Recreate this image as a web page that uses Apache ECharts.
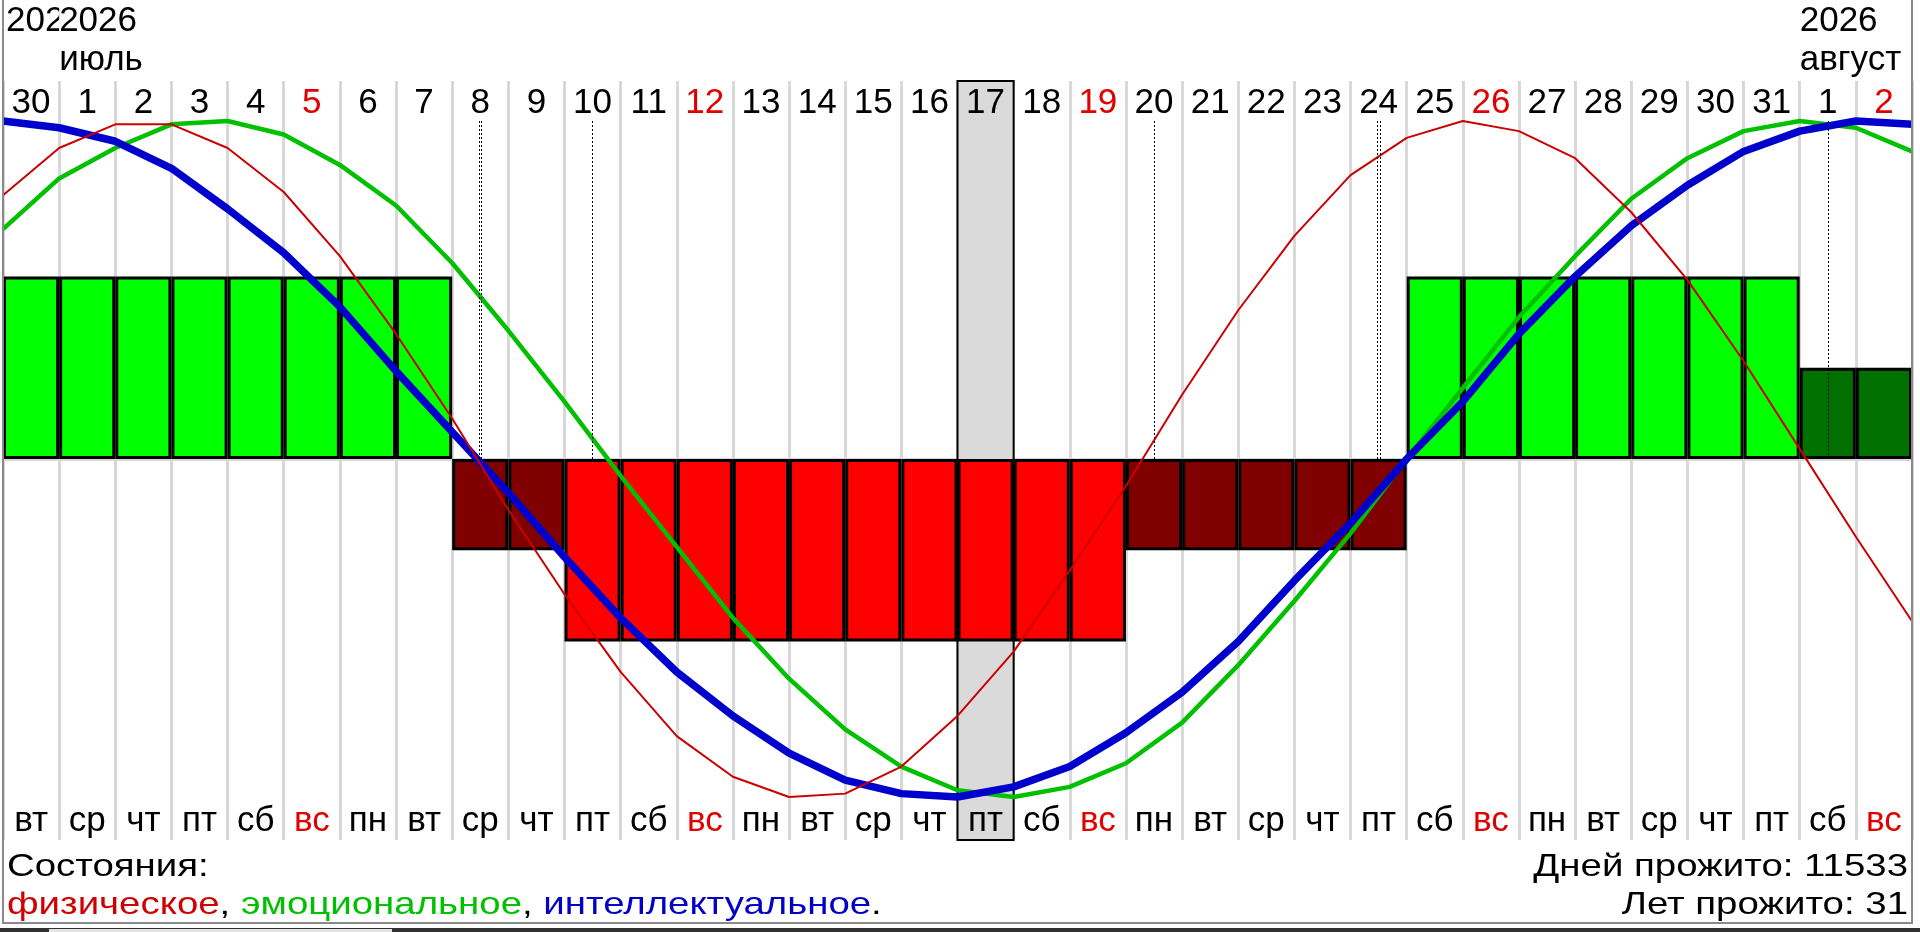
<!DOCTYPE html>
<html>
<head>
<meta charset="utf-8">
<title>Биоритмы</title>
<script src="https://cdn.jsdelivr.net/npm/echarts@6/dist/echarts.min.js"></script>
<style>
html,body{margin:0;padding:0;background:#fff;overflow:hidden;}
#main{width:1920px;height:932px;}
</style>
</head>
<body>
<div id="main"></div>
<script>
// дни: 30 июня - 2 августа 2026
var days = ['30','1','2','3','4','5','6','7','8','9','10','11','12','13','14','15','16',
	'17','18','19','20','21','22','23','24','25','26','27','28','29','30','31','1','2'];
var weekdays = ['вт','ср','чт','пт','сб','вс','пн','вт','ср','чт','пт','сб','вс','пн','вт','ср','чт',
	'пт','сб','вс','пн','вт','ср','чт','пт','сб','вс','пн','вт','ср','чт','пт','сб','вс'];
// год / месяц над шкалой (номер столбца, с которого начинается подпись)
var monthAt = [0, 1, 32];
var monthYear = ['2026', '2026', '2026'];
var monthName = ['', 'июль', 'август'];
// общее состояние по дням
var states = [2,2,2,2,2,2,2,2,-1,-1,-2,-2,-2,-2,-2,-2,-2,-2,-2,-2,-1,-1,-1,-1,-1,2,2,2,2,2,2,2,1,1];
// кривые, значения на границах дней (0..34)
var physical = [0.78,0.92,0.99,0.99,0.92,0.79,0.60,0.37,0.12,-0.15,-0.40,-0.63,-0.82,-0.94,-1.0,-0.99,-0.91,
	-0.76,-0.57,-0.33,-0.08,0.19,0.44,0.66,0.84,0.95,1.0,0.97,0.89,0.73,0.53,0.29,0.03,-0.23,-0.48];
var emotional = [0.68,0.83,0.92,0.99,1.0,0.96,0.87,0.75,0.58,0.38,0.17,-0.05,-0.26,-0.47,-0.65,-0.80,-0.91,
	-0.98,-1.0,-0.97,-0.90,-0.78,-0.61,-0.42,-0.22,0.0,0.21,0.42,0.60,0.77,0.89,0.97,1.0,0.98,0.91];
var intellectual = [1.0,0.98,0.94,0.86,0.74,0.61,0.45,0.26,0.08,-0.10,-0.29,-0.47,-0.63,-0.76,-0.87,-0.95,-0.99,
	-1.0,-0.97,-0.91,-0.81,-0.69,-0.54,-0.36,-0.19,0.0,0.17,0.37,0.54,0.69,0.81,0.91,0.97,1.0,0.99];
// критические дни (повтор - ноль пересекают две кривые)
var criticalDays = [8, 8, 10, 20, 24, 24, 32];
var todayIndex = 17;
var daysLived = 11533;
var yearsLived = 31;

var FONT = '"Liberation Sans", Arial, sans-serif';
var RED = '#e00000';
var stateColor = {'2': '#00ff00', '1': '#007000', '-1': '#800000', '-2': '#ff0000'};

function pairs(arr){
	return arr.map(function(v, i){ return [i, v]; });
}

var critLines = [];
criticalDays.forEach(function(d, k){
	var dup = criticalDays.filter(function(x){ return x === d; }).length;
	var n = criticalDays.slice(0, k).filter(function(x){ return x === d; }).length;
	var x = d + 0.5 + (dup > 1 ? (n === 0 ? -0.025 : 0.025) : 0);
	critLines.push([{coord: [x, 0]}, {coord: [x, 1.006]}]);
});

// подпись год/месяц над столбцом
function monthLabel(k){
	return '{y|' + monthYear[k] + '}\n{m|' + (monthName[k] || ' ') + '}';
}
var monthRich = {
	y: {fontSize: 35, lineHeight: 39, fontFamily: FONT, color: '#000', backgroundColor: '#fff'},
	m: {fontSize: 35, lineHeight: 39, fontFamily: FONT, color: '#000'}
};
var dayRich = {
	n: {fontSize: 35, lineHeight: 35, fontFamily: FONT, color: '#000'},
	r: {fontSize: 35, lineHeight: 35, fontFamily: FONT, color: RED}
};

function textEl(x, y, text, align, rich){
	return {
		type: 'text', x: x, y: y, scaleX: 1.2, silent: true,
		style: {text: text, font: '32px ' + FONT, fill: '#000', align: align, verticalAlign: 'middle', rich: rich}
	};
}

var myChart = echarts.init(document.getElementById('main'));
var option = {
	animation: false,
	backgroundColor: '#fff',
	grid: {left: 3, right: 8, top: 81, height: 759, containLabel: false},
	xAxis: [
		{ // столбцы, разделители, верхняя линия
			type: 'category', data: days, position: 'top', boundaryGap: true,
			axisLine: {show: true, lineStyle: {color: '#d8d8d8', width: 3}},
			axisTick: {show: false}, axisLabel: {show: false},
			splitLine: {show: true, interval: 0, lineStyle: {color: '#d8d8d8', width: 3}}
		},
		{ // нижняя линия
			type: 'category', data: weekdays, position: 'bottom',
			axisLine: {show: true, lineStyle: {color: '#d8d8d8', width: 3}},
			axisTick: {show: false}, axisLabel: {show: false}, splitLine: {show: false}
		},
		{ // кривые + год/месяц (июль, август)
			type: 'value', min: 0, max: 34, interval: 1, position: 'top', z: 2,
			axisLine: {show: false}, axisTick: {show: false}, splitLine: {show: false},
			axisLabel: {
				show: true, align: 'left', margin: 1, showMinLabel: true, showMaxLabel: true,
				formatter: function(v){
					var k = monthAt.indexOf(v);
					return k > 0 ? monthLabel(k) : '';
				},
				rich: monthRich
			}
		},
		{ // числа
			type: 'category', data: days, position: 'top', z: 10,
			axisLine: {show: false}, axisTick: {show: false}, splitLine: {show: false},
			axisLabel: {
				inside: true, interval: 0, margin: 5,
				formatter: function(v, i){ return (weekdays[i] === 'вс' ? '{r|' : '{n|') + v + '}'; },
				rich: dayRich
			}
		},
		{ // дни недели
			type: 'category', data: weekdays, position: 'bottom', z: 10,
			axisLine: {show: false}, axisTick: {show: false}, splitLine: {show: false},
			axisLabel: {
				inside: true, interval: 0, margin: 1,
				formatter: function(v){ return (v === 'вс' ? '{r|' : '{n|') + v + '}'; },
				rich: dayRich
			}
		},
		{ // год первого (неполного) месяца
			type: 'value', min: 0, max: 34, interval: 34, position: 'top', z: 1,
			axisLine: {show: false}, axisTick: {show: false}, splitLine: {show: false},
			axisLabel: {
				show: true, align: 'left', margin: 1, showMinLabel: true,
				formatter: function(v){ return v === monthAt[0] ? monthLabel(0) : ''; },
				rich: monthRich,
				padding: [0, 0, 0, 3]
			}
		}
	],
	yAxis: [
		{type: 'value', min: -1.1272, max: 1.1183, show: false, splitLine: {show: false}},
		{type: 'value', min: -4.178, max: 4.145, show: false, splitLine: {show: false}}
	],
	series: [
		{
			name: 'состояние', type: 'bar', xAxisIndex: 0, yAxisIndex: 1,
			barWidth: '100%', barCategoryGap: '0%',
			itemStyle: {borderColor: '#000', borderWidth: 3},
			data: states.map(function(v){ return {value: v, itemStyle: {color: stateColor[String(v)]}}; })
		},
		{
			name: 'эмоциональное', type: 'line', xAxisIndex: 2, yAxisIndex: 0,
			symbol: 'none', lineStyle: {color: '#00c000', width: 4.5}, itemStyle: {color: '#00c000'},
			data: pairs(emotional),
			markArea: {
				silent: true,
				itemStyle: {color: '#dadada', borderColor: '#000', borderWidth: 2},
				data: [[{xAxis: todayIndex}, {xAxis: todayIndex + 1}]]
			}
		},
		{
			name: 'интеллектуальное', type: 'line', xAxisIndex: 2, yAxisIndex: 0,
			symbol: 'none', lineStyle: {color: '#0000cc', width: 7.5}, itemStyle: {color: '#0000cc'},
			data: pairs(intellectual)
		},
		{
			name: 'физическое', type: 'line', xAxisIndex: 2, yAxisIndex: 0,
			symbol: 'none', lineStyle: {color: '#cc0000', width: 2}, itemStyle: {color: '#cc0000'},
			data: pairs(physical),
			markLine: {
				silent: true, symbol: ['none', 'none'], label: {show: false},
				lineStyle: {color: '#000', type: [2, 2], width: 1},
				data: critLines
			}
		}
	],
	graphic: [
		{type: 'rect', silent: true, z: 100, shape: {x: 3, y: -10, width: 1909, height: 933},
			style: {fill: 'none', stroke: '#8a8a8a', lineWidth: 2}},
		{type: 'rect', silent: true, z: 100, shape: {x: 0, y: 928, width: 1920, height: 4},
			style: {fill: '#303030'}},
		{type: 'rect', silent: true, z: 101, shape: {x: 49, y: 929, width: 343, height: 3},
			style: {fill: '#e4e4e4'}},
		textEl(7, 867, 'Состояния:', 'left'),
		textEl(7, 905, '{r|физическое}, {g|эмоциональное}, {b|интеллектуальное}.', 'left', {
			r: {fill: '#d00000', font: '32px ' + FONT},
			g: {fill: '#00c000', font: '32px ' + FONT},
			b: {fill: '#0000c8', font: '32px ' + FONT}
		}),
		textEl(1908, 867, 'Дней прожито: ' + daysLived, 'right'),
		textEl(1908, 905, 'Лет прожито: ' + yearsLived, 'right')
	]
};
myChart.setOption(option);
window.onresize = function(){
	myChart.resize();
};
</script>
</body>
</html>
